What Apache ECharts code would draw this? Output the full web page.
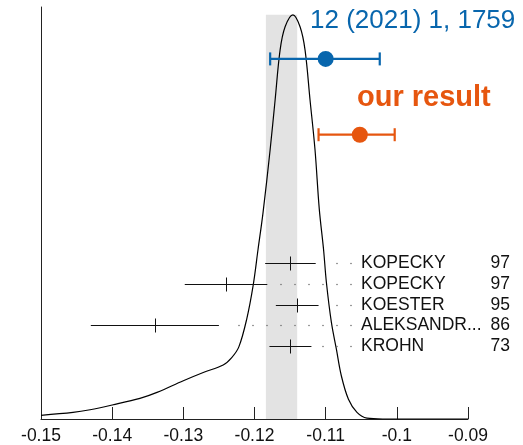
<!DOCTYPE html>
<html><head><meta charset="utf-8">
<script src="https://cdn.jsdelivr.net/npm/echarts@6/dist/echarts.min.js"></script>
<style>html,body{margin:0;padding:0;background:#fff}#c{width:523px;height:445px}</style>
</head><body><div id="c"></div>
<script>
// ---- data ----
const xTicks = [-0.15, -0.14, -0.13, -0.12, -0.11, -0.1, -0.09];
const curveX = [-0.1500,-0.1455,-0.1431,-0.1400,-0.1361,-0.1337,-0.1300,-0.1272,-0.1244,-0.1232,-0.1222,-0.1211,-0.1202,-0.1195,-0.1188,-0.1178,-0.1171,-0.1164,-0.1157,-0.1146,-0.1136,-0.1129,-0.1122,-0.1115,-0.1109,-0.1103,-0.1099,-0.1092,-0.1085,-0.1078,-0.1068,-0.1056,-0.1042,-0.1020,-0.0900];
const curveY = [0.009,0.016,0.0225,0.034,0.050,0.0646,0.093,0.113,0.131,0.149,0.175,0.242,0.323,0.412,0.501,0.654,0.775,0.896,0.952,0.981,0.952,0.896,0.775,0.654,0.51,0.412,0.332,0.235,0.170,0.105,0.048,0.016,0.002,0.0,0.0];
const band = [-0.1184, -0.1140];
const expNames = ["KOPECKY", "KOPECKY", "KOESTER", "ALEKSANDR...", "KROHN"];
const expYears = ["97", "97", "95", "86", "73"];
const expCenter = [-0.1150, -0.1240, -0.1140, -0.1340, -0.1150];
const expLow = [-0.1185, -0.1298, -0.1170, -0.1430, -0.1179];
const expHigh = [-0.1114, -0.1182, -0.1110, -0.1250, -0.1120];
const refLabel = "12 (2021) 1, 1759";
const refVal = [-0.1100, -0.1178, -0.1024];
const ourLabel = "our result";
const ourVal = [-0.1052, -0.1110, -0.1003];

// ---- layout (not data) ----
const refLevel = 0.874, ourLevel = 0.690, bandTop = 0.981;
const BLUE = '#0866ad', ORANGE = '#e6560f';
const FONT = 'Liberation Sans';

const chart = echarts.init(document.getElementById('c'));
const curve = curveX.map((x, i) => [x, curveY[i]]);
const rows = expCenter.map((c, i) => [c, expLow[i], expHigh[i], i]);

function renderExp(params, api) {
  const c = api.value(0), lo = api.value(1), hi = api.value(2), r = api.value(3);
  const pc = api.coord([c, r]), pl = api.coord([lo, r]), ph = api.coord([hi, r]);
  const y = Math.round(pc[1]) + 0.5;
  const xEnd = api.coord([-0.09, r])[0];
  const labelX = xEnd - 107;
  const children = [
    {type: 'line', shape: {x1: pl[0], y1: y, x2: ph[0], y2: y}, style: {stroke: '#111', lineWidth: 1}},
    {type: 'line', shape: {x1: Math.round(pc[0]) + 0.5, y1: y - 7, x2: Math.round(pc[0]) + 0.5, y2: y + 7}, style: {stroke: '#111', lineWidth: 1}}
  ];
  for (let dx = labelX - 10; dx > ph[0] + 10; dx -= 14) {
    children.push({type: 'circle', shape: {cx: dx, cy: y, r: 0.75}, style: {fill: '#666'}});
  }
  children.push({type: 'text', style: {x: labelX, y: y, text: expNames[r], fill: '#111', font: '17.5px ' + FONT, verticalAlign: 'middle', align: 'left'}});
  children.push({type: 'text', style: {x: xEnd + 42, y: y, text: expYears[r], fill: '#111', font: '17.5px ' + FONT, verticalAlign: 'middle', align: 'right'}});
  return {type: 'group', children};
}

function renderPt(color) {
  return function (params, api) {
    const c = api.value(0), lo = api.value(1), hi = api.value(2), lv = api.value(3);
    const pc = api.coord([c, lv]), pl = api.coord([lo, lv]), ph = api.coord([hi, lv]);
    const y = pc[1];
    const st = {stroke: color, lineWidth: 2.2};
    return {type: 'group', children: [
      {type: 'line', shape: {x1: pl[0], y1: y, x2: ph[0], y2: y}, style: st},
      {type: 'line', shape: {x1: pl[0], y1: y - 6.5, x2: pl[0], y2: y + 6.5}, style: st},
      {type: 'line', shape: {x1: ph[0], y1: y - 6.5, x2: ph[0], y2: y + 6.5}, style: st},
      {type: 'circle', shape: {cx: pc[0], cy: y, r: 8}, style: {fill: color}}
    ]};
  };
}

chart.setOption({
  animation: false,
  grid: {left: 41, right: 55, top: 7, bottom: 25},
  xAxis: {
    type: 'value', min: xTicks[0], max: xTicks[xTicks.length - 1], interval: 0.01,
    axisLine: {lineStyle: {color: '#222', width: 1}},
    axisTick: {inside: true, length: 12, lineStyle: {color: '#222'}},
    axisLabel: {color: '#111', fontSize: 17.5, fontFamily: FONT, margin: 8,
      formatter: v => String(parseFloat(v.toFixed(2)))},
    splitLine: {show: false}
  },
  yAxis: [
    {type: 'value', min: 0, max: 1, axisLine: {show: true, lineStyle: {color: '#222'}},
      axisTick: {show: false}, axisLabel: {show: false}, splitLine: {show: false}},
    {type: 'value', inverse: true, min: -12.415, max: 7.536, show: false, splitLine: {show: false}}
  ],
  series: [
    {type: 'line', data: curve, smooth: 0.35, showSymbol: false, z: 2,
      lineStyle: {color: '#000', width: 1.2},
      markArea: {silent: true, itemStyle: {color: '#e3e3e3'},
        data: [[{xAxis: band[0], yAxis: 0}, {xAxis: band[1], yAxis: bandTop}]]}},
    {type: 'custom', yAxisIndex: 1, data: rows, renderItem: renderExp, z: 5},
    {type: 'custom', data: [[refVal[0], refVal[1], refVal[2], refLevel]], renderItem: renderPt(BLUE), z: 6},
    {type: 'custom', data: [[ourVal[0], ourVal[1], ourVal[2], ourLevel]], renderItem: renderPt(ORANGE), z: 6}
  ],
  graphic: [
    {type: 'text', left: 310, top: 8, style: {text: refLabel, fill: BLUE, font: '26px ' + FONT}},
    {type: 'text', left: 357, top: 83, style: {text: ourLabel, fill: ORANGE, font: 'bold 29px ' + FONT}}
  ]
});
</script></body></html>
